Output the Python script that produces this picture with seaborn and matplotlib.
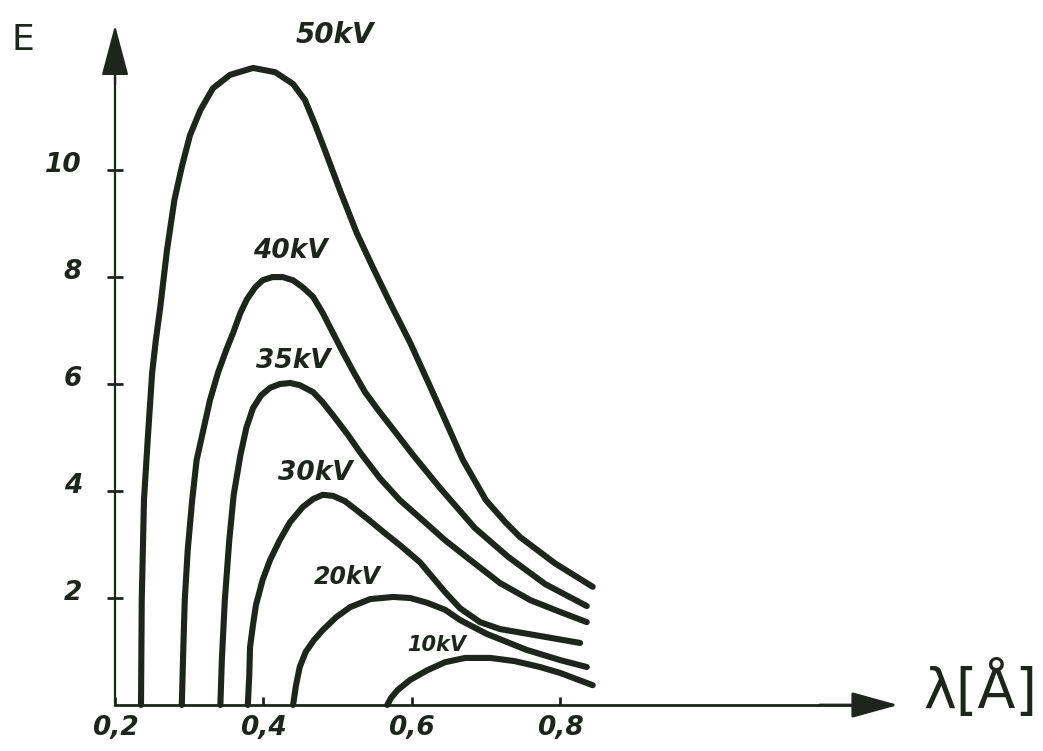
import pandas as pd
import matplotlib
matplotlib.use("Agg")
import matplotlib.pyplot as plt
import matplotlib.transforms as mtransforms
import seaborn as sns

# X-ray spectra: wavelength lambda [A] vs intensity E, one curve per tube voltage
lam_50 = [0.235, 0.236, 0.239, 0.244, 0.250, 0.255, 0.261, 0.270, 0.280, 0.290, 0.301, 0.315,
          0.332, 0.355, 0.386, 0.416, 0.440, 0.456, 0.470, 0.483, 0.503, 0.526, 0.548, 0.571,
          0.598, 0.621, 0.645, 0.669, 0.700, 0.726, 0.746, 0.793, 0.844]
E_50 = [0.0, 1.96, 3.83, 4.95, 6.21, 6.82, 7.44, 8.50, 9.44, 10.06, 10.65, 11.12,
        11.53, 11.78, 11.91, 11.83, 11.61, 11.31, 10.84, 10.37, 9.63, 8.82, 8.17, 7.51,
        6.77, 6.07, 5.33, 4.58, 3.83, 3.42, 3.14, 2.65, 2.21]

lam_40 = [0.290, 0.292, 0.294, 0.298, 0.304, 0.310, 0.319, 0.328, 0.339, 0.350, 0.359, 0.369,
          0.378, 0.389, 0.399, 0.412, 0.426, 0.440, 0.453, 0.467, 0.480, 0.494, 0.507, 0.521,
          0.537, 0.555, 0.578, 0.602, 0.638, 0.685, 0.730, 0.780, 0.836]
E_40 = [0.0, 1.03, 1.96, 2.90, 3.83, 4.58, 5.14, 5.70, 6.22, 6.64, 6.95, 7.33,
        7.59, 7.81, 7.94, 8.00, 8.00, 7.94, 7.81, 7.63, 7.33, 6.95, 6.60, 6.24,
        5.85, 5.51, 5.10, 4.67, 4.06, 3.31, 2.77, 2.26, 1.85]

lam_35 = [0.342, 0.344, 0.348, 0.354, 0.360, 0.369, 0.377, 0.386, 0.397, 0.409, 0.422, 0.436,
          0.449, 0.467, 0.480, 0.497, 0.514, 0.530, 0.557, 0.584, 0.611, 0.645, 0.679, 0.719,
          0.760, 0.800, 0.836]
E_35 = [0.0, 0.84, 1.96, 3.08, 3.93, 4.67, 5.18, 5.55, 5.79, 5.93, 6.00, 6.02,
        5.98, 5.85, 5.66, 5.36, 5.05, 4.73, 4.24, 3.83, 3.50, 3.08, 2.71, 2.28,
        1.96, 1.74, 1.55]

lam_30 = [0.379, 0.381, 0.382, 0.386, 0.390, 0.399, 0.409, 0.422, 0.436, 0.453, 0.467, 0.480,
          0.494, 0.510, 0.526, 0.544, 0.564, 0.584, 0.611, 0.645, 0.665, 0.692, 0.719, 0.773,
          0.827]
E_30 = [0.0, 0.56, 1.08, 1.50, 1.87, 2.34, 2.71, 3.08, 3.42, 3.70, 3.85, 3.93,
        3.91, 3.81, 3.64, 3.44, 3.21, 2.99, 2.67, 2.11, 1.81, 1.55, 1.42, 1.29,
        1.16]

lam_20 = [0.440, 0.444, 0.449, 0.457, 0.468, 0.480, 0.498, 0.517, 0.544, 0.575, 0.598, 0.621,
          0.645, 0.665, 0.701, 0.755, 0.800, 0.836]
E_20 = [0.0, 0.37, 0.71, 0.99, 1.21, 1.40, 1.64, 1.83, 1.98, 2.02, 2.00, 1.91,
        1.78, 1.59, 1.33, 1.03, 0.84, 0.71]

lam_10 = [0.567, 0.572, 0.581, 0.598, 0.621, 0.645, 0.672, 0.706, 0.739, 0.773, 0.800, 0.844]
E_10 = [0.0, 0.13, 0.28, 0.47, 0.65, 0.80, 0.88, 0.88, 0.82, 0.71, 0.60, 0.37]

kv_names = ["50kV", "40kV", "35kV", "30kV", "20kV", "10kV"]
label_lam = [0.497, 0.436, 0.440, 0.470, 0.513, 0.634]
label_E = [12.52, 8.49, 6.43, 4.34, 2.39, 1.12]
label_size = [20, 19, 19, 19, 17, 15]

x_ticks = [0.2, 0.4, 0.6, 0.8]
x_tick_labels = ["0,2", "0,4", "0,6", "0,8"]
y_ticks = [2, 4, 6, 8, 10]
y_tick_labels = ["2", "4", "6", "8", "10"]

ink = "#1d251d"

curves = [(lam_50, E_50), (lam_40, E_40), (lam_35, E_35),
          (lam_30, E_30), (lam_20, E_20), (lam_10, E_10)]
df = pd.concat([pd.DataFrame({"lam": l, "E": e, "kv": k})
                for (l, e), k in zip(curves, kv_names)], ignore_index=True)

sns.set_style("ticks")
plt.rcParams["font.family"] = ["DejaVu Sans"]

fig = plt.figure(figsize=(10.43, 7.51), dpi=100)
ax = fig.add_axes([0, 0, 1, 1])
ax.set_facecolor("white")

sns.lineplot(data=df, x="lam", y="E", units="kv", estimator=None, sort=False,
             color=ink, linewidth=4.4, legend=False, ax=ax,
             solid_capstyle="round", solid_joinstyle="round")

for name, lx, ly, fs in zip(kv_names, label_lam, label_E, label_size):
    ax.text(lx, ly, name, fontsize=fs, fontweight="bold", fontstyle="italic",
            color=ink, ha="center", va="center")

ax.set_xlim(0.0449, 1.4511)
ax.set_ylim(-0.86, 13.18)

# axes drawn through the origin, with arrow heads
for side in ["top", "right"]:
    ax.spines[side].set_visible(False)
ax.spines["left"].set_position(("data", 0.2))
ax.spines["bottom"].set_position(("data", 0))
ax.spines["left"].set_bounds(0, 12.2)
ax.spines["bottom"].set_bounds(0.2, 1.21)
ax.spines["left"].set_linewidth(1.6)
ax.spines["bottom"].set_linewidth(2)
ax.spines["left"].set_color(ink)
ax.spines["bottom"].set_color(ink)

ax.annotate("", xy=(0.2, 12.71), xytext=(0.2, 11.6),
            arrowprops=dict(arrowstyle="-|>,head_length=3.2,head_width=0.85",
                            color=ink, lw=1.6, shrinkA=0, shrinkB=0))
ax.annotate("", xy=(1.256, 0), xytext=(1.15, 0),
            arrowprops=dict(arrowstyle="-|>,head_length=2.9,head_width=0.8",
                            color=ink, lw=2, shrinkA=0, shrinkB=0))

ax.set_xticks(x_ticks, labels=x_tick_labels)
ax.set_yticks(y_ticks, labels=y_tick_labels)
ax.tick_params(axis="y", direction="inout", length=11.5, width=2, pad=18,
               labelsize=19, colors=ink, left=True)
ax.tick_params(axis="x", direction="in", length=6, width=2, pad=7,
               labelsize=19, colors=ink, bottom=True)
for lab in ax.get_xticklabels() + ax.get_yticklabels():
    lab.set_fontweight("bold")
    lab.set_fontstyle("italic")
shift = mtransforms.ScaledTranslation(0, 8 / 100, fig.dpi_scale_trans)
for lab in ax.get_yticklabels():
    lab.set_transform(lab.get_transform() + shift)

ax.set_ylabel("E", rotation=0, fontsize=26, color=ink, ha="center", va="center")
ax.yaxis.set_label_coords(0.022, 0.947)
ax.set_xlabel("λ[Å]", fontsize=40, color=ink, ha="left", va="center")
ax.xaxis.set_label_coords(0.885, 0.081)

fig.savefig("out.png", dpi=100, facecolor="white")
